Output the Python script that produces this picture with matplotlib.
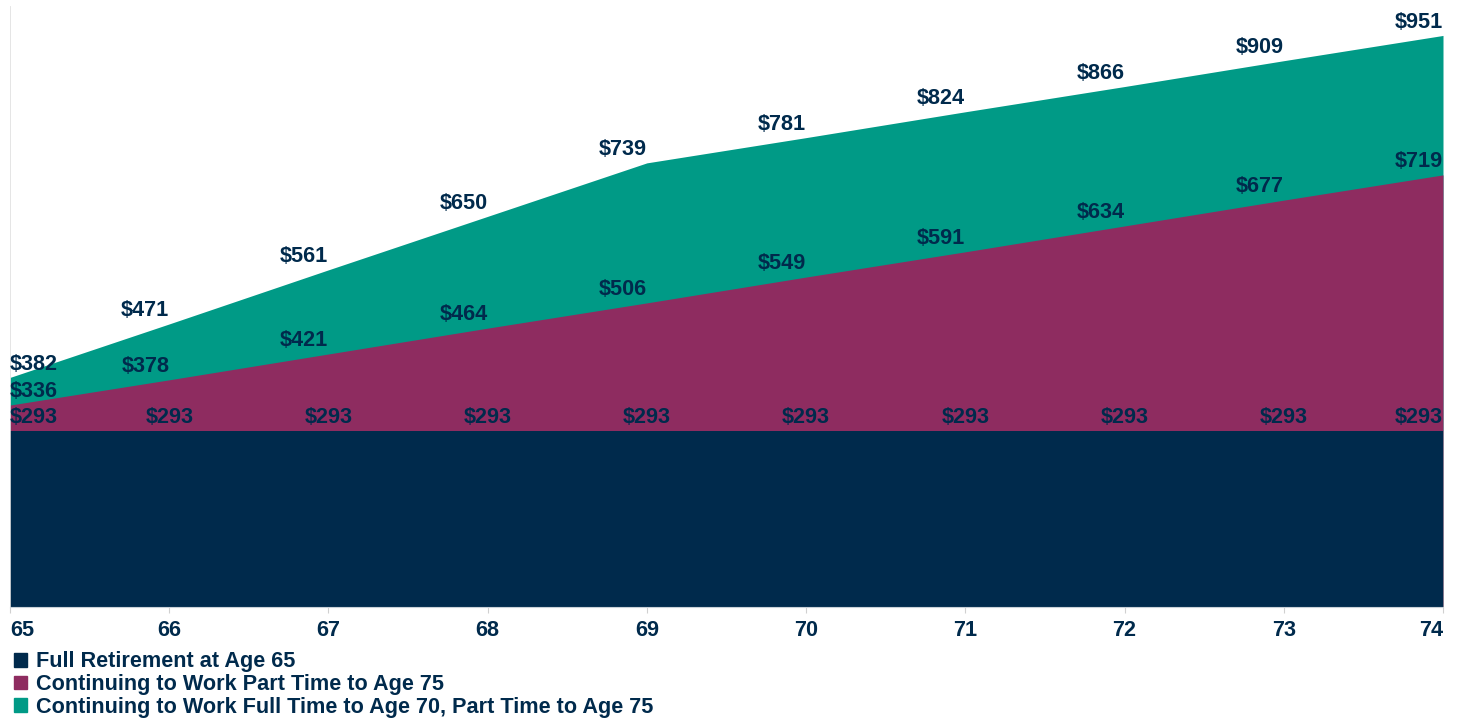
import matplotlib.pyplot as plt
from matplotlib.patches import Patch

plt.rcParams['font.family'] = ['Liberation Sans', 'DejaVu Sans']

ages = [65, 66, 67, 68, 69, 70, 71, 72, 73, 74]
full_retirement = [293, 293, 293, 293, 293, 293, 293, 293, 293, 293]
part_time = [336, 378, 421, 464, 506, 549, 591, 634, 677, 719]
full_then_part = [382, 471, 561, 650, 739, 781, 824, 866, 909, 951]

series_names = ['Full Retirement at Age 65',
                'Continuing to Work Part Time to Age 75',
                'Continuing to Work Full Time to Age 70, Part Time to Age 75']
navy = '#002a4c'
purple = '#8e2c60'
teal = '#009a86'

fig = plt.figure(figsize=(14.6, 7.21), dpi=100)
ax = fig.add_axes([10 / 1460, 1 - 607 / 721, 1433 / 1460, 601 / 721])

ax.fill_between(ages, 0, full_then_part, color=teal, linewidth=0)
ax.fill_between(ages, 0, part_time, color=purple, linewidth=0)
ax.fill_between(ages, 0, full_retirement, color=navy, linewidth=0)

ax.set_xlim(ages[0], ages[-1])
ax.set_ylim(0, 1000)


def label_series(values, middle_ha):
    for i, (x, v) in enumerate(zip(ages, values)):
        ha = middle_ha
        if i == 0:
            ha = 'left'
        elif i == len(ages) - 1:
            ha = 'right'
        ax.annotate('$%d' % v, (x, v), xytext=(0, 9.5), textcoords='offset points',
                    ha=ha, va='center', fontsize=15.6, fontweight='bold',
                    color=navy, annotation_clip=False)


label_series(full_then_part, 'right')
label_series(part_time, 'right')
label_series(full_retirement, 'center')

ax.set_xticks(ages)
ax.set_xticklabels([str(a) for a in ages], fontsize=15.6, fontweight='bold', color=navy)
ticklabels = ax.get_xticklabels()
ticklabels[0].set_ha('left')
ticklabels[-1].set_ha('right')
ax.tick_params(axis='x', length=4, color='#d0d0d0', pad=5)
ax.set_yticks([])
for side in ['top', 'right']:
    ax.spines[side].set_visible(False)
ax.spines['bottom'].set_color('#c8d0d8')
ax.spines['left'].set_color('#e0e0e0')
ax.spines['left'].set_linewidth(0.6)

handles = [Patch(color=navy), Patch(color=purple), Patch(color=teal)]
leg = fig.legend(handles, series_names, loc='upper left',
                 bbox_to_anchor=(10 / 1460, 1 - 647 / 721), frameon=False,
                 handlelength=0.6, handleheight=0.6, handletextpad=0.4,
                 labelspacing=0.08, borderpad=0.2, borderaxespad=0,
                 prop={'size': 15.6, 'weight': 'bold'})
for t in leg.get_texts():
    t.set_color(navy)

plt.savefig('out.png', dpi=100)
